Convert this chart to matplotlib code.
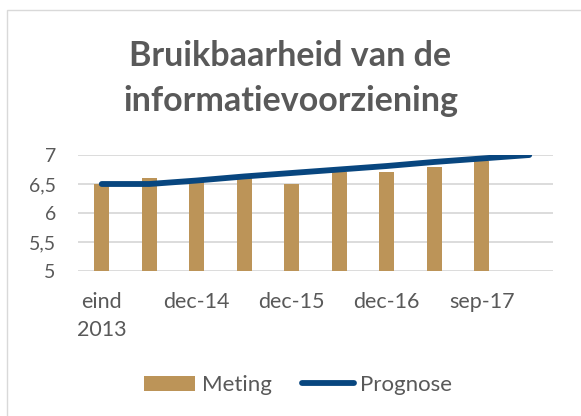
import numpy as np
import matplotlib; matplotlib.use('Agg')
import matplotlib.pyplot as plt
from matplotlib.patches import Rectangle

# data
categories = ['eind\n2013', '', 'dec-14', '', 'dec-15', '', 'dec-16', '', 'sep-17', '']
meting = [6.5, 6.6, 6.55, 6.6, 6.5, 6.7, 6.7, 6.8, 6.9, np.nan]
prognose = [6.5, 6.5, 6.56, 6.63, 6.69, 6.75, 6.81, 6.88, 6.94, 7.0]
yticks = [5, 5.5, 6, 6.5, 7]
ytick_labels = ['5', '5,5', '6', '6,5', '7']

plt.rcParams['font.family'] = ['Lato', 'DejaVu Sans']
grey = '#595959'

fig = plt.figure(figsize=(5.81, 4.16), dpi=100)
fig.patches.append(Rectangle((7/581, -0.05), 1.1, 1 - 10/416 + 0.05, transform=fig.transFigure,
                             fc='none', ec='#d9d9d9', lw=1.0, zorder=-5))
ax = fig.add_axes([78/581, 1 - 271/416, 475/581, 116/416])
ax.set_facecolor('none')

x = np.arange(len(categories))
bars = ax.bar(x, meting, width=0.31, color='#bc9458', label='Meting', zorder=2)
line, = ax.plot(x, prognose, color='#08467f', lw=4.2, solid_capstyle='round', label='Prognose', zorder=3)

ax.set_xlim(-0.5, len(categories) - 0.5)
ax.set_ylim(5, 7)
ax.set_yticks(yticks)
ax.set_yticklabels(ytick_labels)
ax.set_xticks(x)
ax.set_xticklabels(categories, linespacing=1.5)
ax.tick_params(axis='both', length=0, labelcolor=grey)
ax.tick_params(axis='x', pad=15, labelsize=15.5)
ax.tick_params(axis='y', pad=16, labelsize=14)
ax.yaxis.grid(True, color='#d9d9d9', lw=1.3, zorder=0)
ax.set_axisbelow(True)
for s in ax.spines.values():
    s.set_visible(False)

# title, two lines placed on their baselines
fig.text(0.5, 1 - 66/416, 'Bruikbaarheid van de', ha='center', va='baseline',
         fontsize=24.5, fontweight='bold', color=grey)
fig.text(0.5, 1 - 111/416, 'informatievoorziening', ha='center', va='baseline',
         fontsize=24.5, fontweight='bold', color=grey)

fig.legend([bars, line], ['Meting', 'Prognose'], loc='center', bbox_to_anchor=(298/581, 1 - 385/416),
           ncol=2, frameon=False, fontsize=16, labelcolor=grey, handlelength=2.3, handleheight=0.65,
           columnspacing=1.4, handletextpad=0.3)

fig.savefig('out.png', dpi=100)
